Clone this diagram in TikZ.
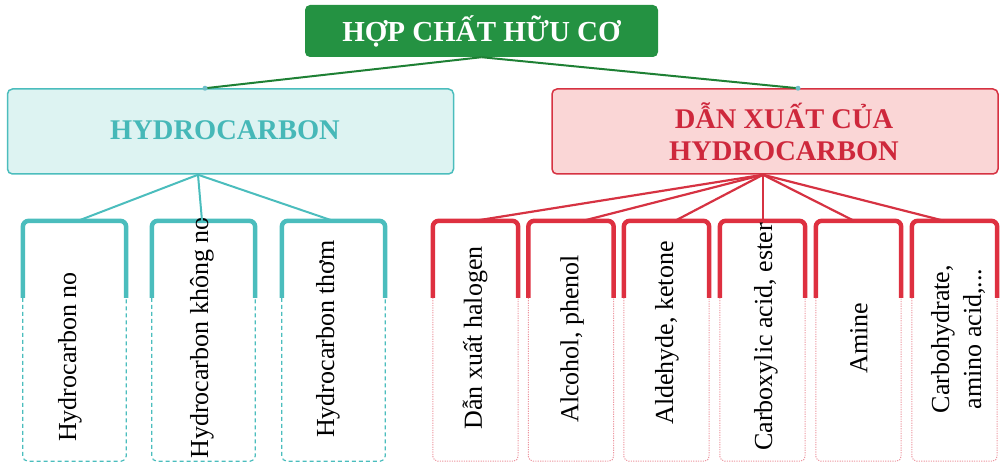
\documentclass[tikz,border=0pt]{standalone}
\usepackage{fontspec}
\setmainfont{Liberation Serif}
\usetikzlibrary{calc}
\definecolor{tgreen}{RGB}{36,146,66}
\definecolor{lgreen}{RGB}{30,128,52}
\definecolor{tealc}{RGB}{75,189,189}
\definecolor{tealfill}{RGB}{221,243,242}
\definecolor{tealtext}{RGB}{70,184,184}
\definecolor{redc}{RGB}{214,50,66}
\definecolor{redfill}{RGB}{250,214,214}
\definecolor{redtext}{RGB}{206,40,60}
\definecolor{redbr}{RGB}{222,48,64}
\definecolor{reddot}{RGB}{236,150,160}
\definecolor{dotc}{RGB}{110,190,200}
\tikzset{
  frame/.style={inner sep=0pt, minimum width=#1, minimum height=240pt},
  ctext/.style={rotate=90, inner sep=0pt, align=center, font=\fontsize{26}{32}\selectfont},
  tealbr/.style={draw=tealc, line width=4.5pt, rounded corners=6pt},
  tealdash/.style={draw=tealc, line width=1.2pt, dash pattern=on 4pt off 3pt, rounded corners=5pt},
  redbrk/.style={draw=redbr, line width=4.5pt, rounded corners=6pt},
  reddots/.style={draw=reddot, line width=1pt, dash pattern=on 1.2pt off 1.2pt, rounded corners=5pt},
  tline/.style={draw=tealc, line width=2pt},
  rline/.style={draw=redc, line width=2.2pt},
  gline/.style={draw=lgreen, line width=2pt},
}
\begin{document}
\begin{tikzpicture}[x=1pt,y=-1pt]
\useasboundingbox (0,0) rectangle (1004,473);
% title
\node[fill=tgreen, rounded corners=5pt, minimum width=353pt, minimum height=52pt, inner sep=0pt,
      text=white, font=\fontsize{29}{32}\selectfont\bfseries] (title) at (481.5,31) {HỢP CHẤT HỮU CƠ};
% level 1
\node[draw=tealc, fill=tealfill, line width=1.5pt, rounded corners=5pt, minimum width=446pt, minimum height=85pt, inner sep=0pt,
      text=tealtext, font=\fontsize{28.5}{32}\selectfont\bfseries] (hc) at (230.5,131.5) {};
\node[text=tealtext, font=\fontsize{28.5}{32}\selectfont\bfseries, inner sep=0pt] (hct) at (225,130) {HYDROCARBON};
\node[draw=redc, fill=redfill, line width=1.5pt, rounded corners=5pt, minimum width=446pt, minimum height=85pt, inner sep=0pt] (dx) at (775,131.5) {};
\node[text=redtext, font=\fontsize{28.5}{32}\selectfont\bfseries, align=center, inner sep=0pt] (dxt) at (784,132) {DẪN XUẤT CỦA\\HYDROCARBON};
% green connectors
\coordinate (g0) at (title.south);
\draw[gline] (g0) -- ([xshift=-25.5pt]hc.north) coordinate (ga);
\draw[gline] (g0) -- ([xshift=23pt]dx.north) coordinate (gb);
\fill[dotc] (ga) circle (2.5pt);
\fill[dotc] (gb) circle (2.5pt);
% teal children
\foreach \n/\x in {t1/74.5, t2/203.5, t3/333.5}{
  \node[frame=103pt] (\n) at (\x,341) {};
  \draw[tealbr] ([yshift=-77pt]\n.north west) -- (\n.north west) -- (\n.north east) -- ([yshift=-77pt]\n.north east);
  \draw[tealdash] ([yshift=-77pt]\n.north west) -- (\n.south west) -- (\n.south east) -- ([yshift=-77pt]\n.north east);
}
\node[ctext] (t1t) at (70,357) {Hydrocarbon no};
\node[ctext] (t2t) at (202,338) {Hydrocarbon không no};
\node[ctext] (t3t) at (328,339) {Hydrocarbon thơm};
\coordinate (ts) at ([xshift=-32.5pt]hc.south);
\draw[tline] (ts) -- ([xshift=3.5pt]t1.north);
\draw[tline] (ts) -- ([xshift=-1.5pt]t2.north);
\draw[tline] (ts) -- ([xshift=-0.5pt]t3.north);
% red children
\foreach \n/\x in {r1/475.5, r2/571, r3/666.5, r4/762.5, r5/858.5, r6/954.5}{
  \node[frame=85pt] (\n) at (\x,341) {};
  \draw[redbrk] ([yshift=-77pt]\n.north west) -- (\n.north west) -- (\n.north east) -- ([yshift=-77pt]\n.north east);
  \draw[reddots] ([yshift=-77pt]\n.north west) -- (\n.south west) -- (\n.south east) -- ([yshift=-77pt]\n.north east);
}
\node[ctext] (r1t) at (475,338) {Dẫn xuất halogen};
\node[ctext] (r2t) at (572,339) {Alcohol, phenol};
\node[ctext] (r3t) at (667,333) {Aldehyde, ketone};
\node[ctext] (r4t) at (766,337) {Carboxylic acid, ester};
\node[ctext] (r5t) at (859,338) {Amine};
\node[ctext] (r6t) at (958,339) {Carbohydrate,\\amino acid,...};
\coordinate (rs) at ([xshift=-12pt]dx.south);
\draw[rline] (rs) -- ([xshift=-0.5pt]r1.north);
\draw[rline] (rs) -- ([xshift=12pt]r2.north);
\draw[rline] (rs) -- ([xshift=8.5pt]r3.north);
\draw[rline] (rs) -- ([xshift=0.5pt]r4.north);
\draw[rline] (rs) -- ([xshift=-4.5pt]r5.north);
\draw[rline] (rs) -- ([xshift=-10.5pt]r6.north);
\end{tikzpicture}
\end{document}
